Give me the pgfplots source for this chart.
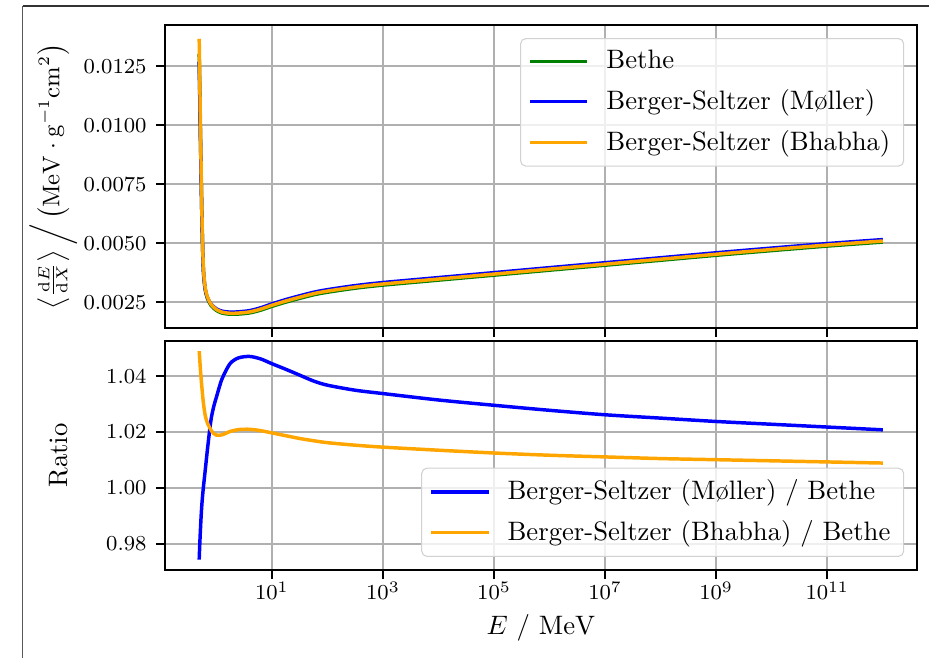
\documentclass[border=0pt]{standalone}
\usepackage{pgfplots}
\pgfplotsset{compat=1.18}
\usepackage{pgfplotstable}
\definecolor{mplgreen}{HTML}{008000}
\definecolor{mplblue}{HTML}{0000FF}
\definecolor{mplorange}{HTML}{FFA500}
\definecolor{gridgray}{HTML}{B0B0B0}

\pgfplotstableread{
E bethe moller bhabha rm rb
0.4898 0.013022 0.012687 0.01366 0.9743 1.0490
0.5012 0.011470 0.011235 0.01200 0.9795 1.0462
0.5129 0.009971 0.009811 0.01040 0.9840 1.0430
0.5248 0.008554 0.008451 0.00890 0.9880 1.0405
0.5370 0.007225 0.007164 0.00750 0.9915 1.0380
0.5495 0.005986 0.005953 0.00620 0.9945 1.0358
0.5689 0.004552 0.004543 0.00470 0.9980 1.0325
0.5888 0.003690 0.003694 0.00380 1.0010 1.0298
0.6310 0.003022 0.003042 0.00310 1.0065 1.0258
0.6918 0.002658 0.002695 0.00272 1.0140 1.0232
0.7943 0.002381 0.002438 0.00243 1.0240 1.0208
0.8913 0.002256 0.002321 0.00230 1.0290 1.0195
1.0 0.002159 0.002229 0.00220 1.0325 1.0189
1.2589 0.002051 0.002131 0.00209 1.0390 1.0190
1.7579 0.002000 0.002089 0.00204 1.0445 1.0202
2.5119 0.002008 0.002102 0.00205 1.0466 1.0209
3.9811 0.002057 0.002154 0.00210 1.0471 1.0210
6.3096 0.002175 0.002275 0.00222 1.0462 1.0205
10 0.002334 0.002438 0.00238 1.0445 1.0197
17.783 0.002513 0.002620 0.00256 1.0425 1.0187
31.623 0.002673 0.002781 0.00272 1.0404 1.0177
56.234 0.002822 0.002930 0.00287 1.0383 1.0169
100 0.002932 0.003040 0.00298 1.0368 1.0162
316.23 0.003103 0.003212 0.00315 1.0350 1.0153
1e3 0.003233 0.003342 0.00328 1.0338 1.0146
1e4 0.003444 0.003552 0.00349 1.0315 1.0135
1e5 0.003654 0.003762 0.00370 1.0296 1.0125
1e6 0.003865 0.003972 0.00391 1.0278 1.0117
1e7 0.004075 0.004182 0.00412 1.0262 1.0111
1e8 0.004285 0.004392 0.00433 1.0250 1.0105
1e9 0.004495 0.004602 0.00454 1.0238 1.0101
1e10 0.004694 0.004801 0.00474 1.0228 1.0097
1e11 0.004885 0.004991 0.00493 1.0218 1.0093
1e12 0.005055 0.005160 0.00510 1.0208 1.0089
}\datatable

\begin{document}
\begin{tikzpicture}
\path[use as bounding box] (0,0) rectangle (348.375pt,246.75pt);
\draw[gray!70!black, line width=0.6pt] (8.5pt,0pt) -- (8.5pt,244.5pt);
\draw[black!80, line width=0.4pt] (8.5pt,244.5pt) -- (348.375pt,244.5pt);

\begin{axis}[
  xmode=log, log basis x=10,
  scale only axis,
  width=282pt, height=113.625pt,
  at={(61.875pt,123.75pt)}, anchor=south west,
  xmin=0.1187, xmax=4.127e12,
  xtick={1e1,1e3,1e5,1e7,1e9,1e11},
  minor xtick={},
  xticklabels={},
  ymin=0.001417, ymax=0.014243,
  ytick={0.0025,0.005,0.0075,0.01,0.0125},
  grid=major,
  major grid style={gridgray, line width=0.75pt},
  axis line style={black, line width=0.8pt},
  tick style={black, line width=0.8pt},
  major tick length=3.4pt,
  tick align=outside,
  xtick pos=bottom, ytick pos=left,
  ticklabel style={font=\fontsize{8.2}{10}\selectfont},
  scaled y ticks=false,
  yticklabel style={/pgf/number format/fixed, /pgf/number format/fixed zerofill, /pgf/number format/precision=4},
  ylabel={$\left\langle\frac{\mathrm{d}E}{\mathrm{d}X}\right\rangle\Big/\left(\mathrm{MeV}\cdot\mathrm{g}^{-1}\mathrm{cm}^{2}\right)$},
  ylabel style={at={(axis description cs:-0.149,0.5)}, anchor=center, font=\fontsize{9}{11}\selectfont},
  legend cell align=left,
  legend style={at={(axis description cs:0.983,0.957)}, anchor=north east,
      draw=black!18, rounded corners=2pt, fill=white, fill opacity=0.8, text opacity=1,
      font=\fontsize{10}{12}\selectfont,
      inner xsep=3pt, inner ysep=2.4pt, row sep=2.3pt},
  legend image code/.code={\draw[mark repeat=2,mark phase=2,#1] plot coordinates {(0pt,0pt) (10.7pt,0pt) (21.4pt,0pt)}; \path (25.9pt,0pt);},
]
\addplot[mplgreen, line width=1.3pt, smooth, tension=0.5] table[x=E, y=bethe] {\datatable};
\addlegendentry{Bethe}
\addplot[mplblue, line width=1.3pt, smooth, tension=0.5] table[x=E, y=moller] {\datatable};
\addlegendentry{Berger-Seltzer (M{\o}ller)}
\addplot[mplorange, line width=1.3pt, smooth, tension=0.5] table[x=E, y=bhabha] {\datatable};
\addlegendentry{Berger-Seltzer (Bhabha)}
\end{axis}

\begin{axis}[
  xmode=log, log basis x=10,
  scale only axis,
  width=282pt, height=85.875pt,
  at={(61.875pt,33pt)}, anchor=south west,
  xmin=0.1187, xmax=4.127e12,
  xtick={1e1,1e3,1e5,1e7,1e9,1e11},
  minor xtick={},
  ymin=0.970565, ymax=1.052635,
  ytick={0.98,1.00,1.02,1.04},
  grid=major,
  major grid style={gridgray, line width=0.75pt},
  axis line style={black, line width=0.8pt},
  tick style={black, line width=0.8pt},
  major tick length=3.4pt,
  tick align=outside,
  xtick pos=bottom, ytick pos=left,
  ticklabel style={font=\fontsize{8.2}{10}\selectfont},
  xticklabel style={yshift=2.5pt},
  scaled y ticks=false,
  yticklabel style={/pgf/number format/fixed, /pgf/number format/fixed zerofill, /pgf/number format/precision=2},
  xlabel={$E\ /\ \mathrm{MeV}$},
  xlabel style={at={(axis description cs:0.5,-0.253)}, anchor=center, font=\fontsize{10}{12}\selectfont},
  ylabel={Ratio},
  ylabel style={at={(axis description cs:-0.142,0.5)}, anchor=center, font=\fontsize{10}{12}\selectfont},
  legend cell align=left,
  legend style={at={(axis description cs:0.983,0.057)}, anchor=south east,
      draw=black!18, rounded corners=2pt, fill=white, fill opacity=0.8, text opacity=1,
      font=\fontsize{10}{12}\selectfont,
      inner xsep=3pt, inner ysep=2.4pt, row sep=2.3pt},
  legend image code/.code={\draw[mark repeat=2,mark phase=2,#1] plot coordinates {(0pt,0pt) (10.7pt,0pt) (21.4pt,0pt)}; \path (25.9pt,0pt);},
]
\addplot[mplblue, line width=1.3pt, smooth, tension=0.5] table[x=E, y=rm] {\datatable};
\addlegendentry{Berger-Seltzer (M{\o}ller) / Bethe}
\addplot[mplorange, line width=1.3pt, smooth, tension=0.5] table[x=E, y=rb] {\datatable};
\addlegendentry{Berger-Seltzer (Bhabha) / Bethe}
\end{axis}
\end{tikzpicture}
\end{document}
